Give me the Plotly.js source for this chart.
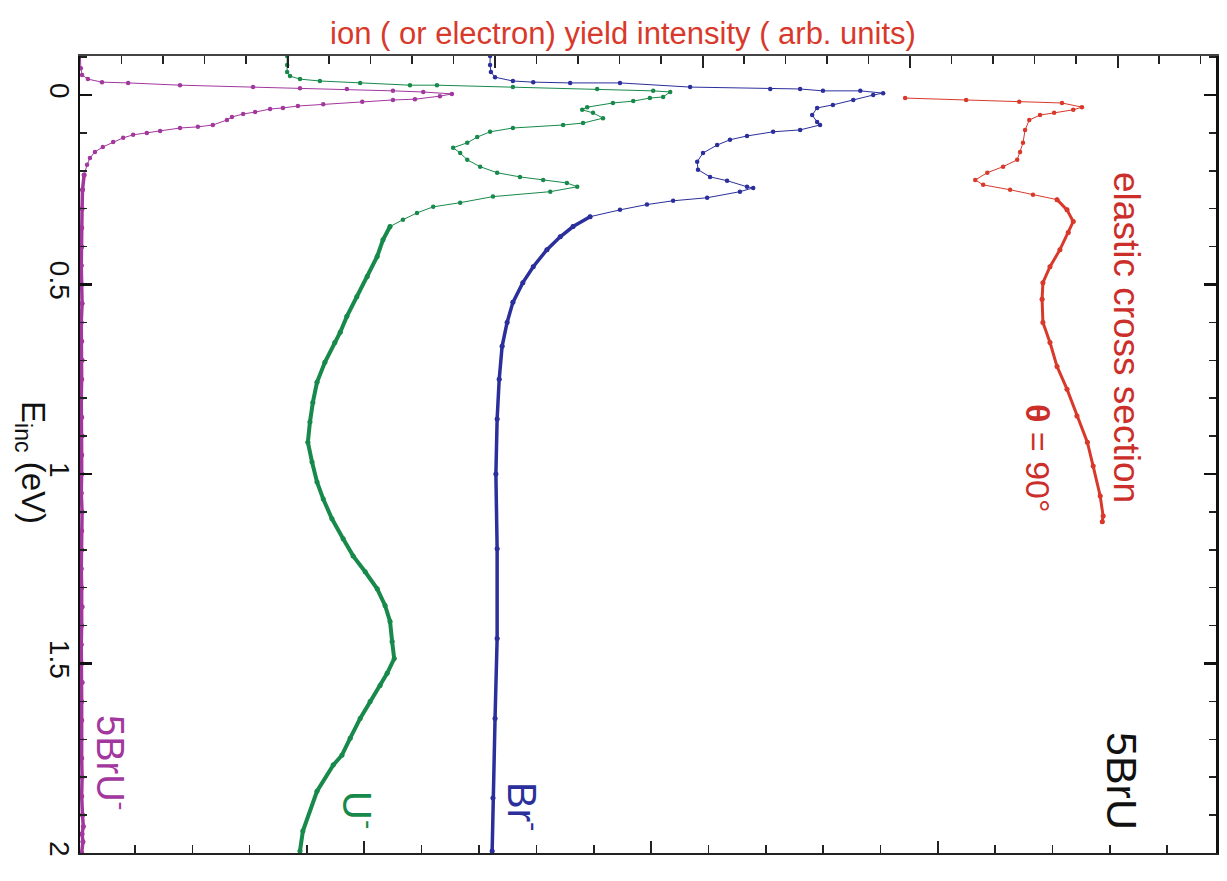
<!DOCTYPE html>
<html>
<head>
<meta charset="utf-8">
<script src="https://cdn.plot.ly/plotly-3.0.1.min.js"></script>
<style>
html,body{margin:0;padding:0;background:#fff;}
#chart{width:1227px;height:881px;}
</style>
</head>
<body>
<div id="chart"></div>
<script>
// Incident energy (eV) and yield intensity (arb. units) for each curve
const energy_5BrU = [-0.103,-0.071,-0.053,-0.042,-0.034,-0.032,-0.026,-0.021,-0.018,-0.016,-0.011,-0.008,-0.003,0.003,0.011,0.013,0.018,0.024,0.029,0.034,0.037,0.045,0.050,0.058,0.066,0.079,0.084,0.087,0.095,0.100,0.105,0.113,0.124,0.137,0.150,0.166,0.184,0.211,0.25,0.30,0.35,0.4,0.45,0.5,0.55,0.6,0.65,0.7,0.75,0.8,0.85,0.9,0.95,1.0,1.05,1.1,1.15,1.2,1.25,1.3,1.35,1.4,1.45,1.5,1.55,1.6,1.65,1.7,1.75,1.8,1.85,1.9,1.93,1.95,1.97,2.0];
const yield_5BrU  = [0.01,0.02,0.05,0.19,0.53,1.16,2.41,4.17,5.30,6.43,7.54,8.27,8.96,8.67,8.07,7.54,6.80,5.86,5.25,4.89,4.58,4.22,3.93,3.66,3.54,3.20,2.84,2.41,1.93,1.61,1.28,1.04,0.80,0.55,0.36,0.24,0.17,0.10,0.06,0.05,0.04,0.04,0.03,0.04,0.05,0.03,0.04,0.05,0.04,0.03,0.04,0.05,0.04,0.04,0.03,0.05,0.04,0.04,0.03,0.04,0.05,0.04,0.03,0.04,0.05,0.04,0.04,0.03,0.04,0.05,0.04,0.06,0.08,0.05,0.07,0.04];

const energy_U = [-0.103,-0.079,-0.061,-0.050,-0.042,-0.037,-0.032,-0.026,-0.026,-0.021,-0.016,-0.011,-0.008,0.005,0.008,0.016,0.021,0.032,0.039,0.047,0.061,0.074,0.079,0.087,0.097,0.111,0.126,0.139,0.153,0.171,0.189,0.205,0.216,0.224,0.232,0.242,0.255,0.268,0.284,0.295,0.311,0.329,0.347,0.382,0.426,0.479,0.532,0.584,0.626,0.653,0.705,0.758,0.811,0.863,0.916,0.968,1.021,1.066,1.118,1.171,1.216,1.258,1.303,1.347,1.389,1.442,1.487,1.526,1.558,1.600,1.645,1.697,1.742,1.768,1.837,1.942,1.995];
const yield_U  = [4.99,4.99,4.99,5.06,5.30,5.78,6.75,7.95,8.60,10.43,12.46,13.81,14.22,14.05,13.73,13.33,12.84,12.22,12.10,12.36,12.60,12.12,11.64,10.43,9.88,9.57,9.33,8.99,9.16,9.33,9.64,10.05,10.60,11.16,11.73,11.98,11.33,9.95,9.16,8.51,8.12,7.78,7.47,7.30,7.16,6.92,6.67,6.43,6.27,6.14,5.90,5.71,5.61,5.54,5.49,5.59,5.71,5.86,6.07,6.34,6.58,6.87,7.16,7.35,7.47,7.52,7.57,7.40,7.23,6.99,6.75,6.51,6.31,6.10,5.71,5.37,5.30];

const energy_Br = [-0.103,-0.079,-0.061,-0.047,-0.037,-0.034,-0.032,-0.032,-0.021,-0.016,-0.016,-0.011,-0.011,-0.005,0.000,0.013,0.026,0.034,0.053,0.071,0.079,0.092,0.097,0.108,0.118,0.132,0.153,0.176,0.197,0.216,0.226,0.242,0.245,0.255,0.271,0.279,0.289,0.303,0.321,0.347,0.374,0.408,0.453,0.495,0.547,0.600,0.663,0.75,0.855,1.0,1.197,1.434,1.645,1.855,1.995];
const yield_Br  = [9.88,9.88,9.90,10.00,10.43,10.92,11.81,13.01,14.70,16.63,17.35,17.90,18.80,19.35,19.11,18.63,18.14,17.76,17.64,17.76,17.83,17.35,16.70,16.07,15.66,15.35,15.01,14.87,14.89,15.18,15.59,16.07,16.22,15.90,15.11,14.29,13.66,13.01,12.29,11.88,11.57,11.25,10.92,10.67,10.43,10.29,10.17,10.10,10.05,10.02,10.05,10.05,10.00,9.95,9.93];

const energy_elastic = [0.008,0.013,0.018,0.021,0.032,0.039,0.047,0.053,0.066,0.092,0.126,0.150,0.171,0.189,0.205,0.224,0.237,0.25,0.263,0.276,0.303,0.334,0.363,0.408,0.453,0.495,0.539,0.600,0.653,0.716,0.776,0.847,0.916,0.979,1.058,1.111,1.126];
const yield_elastic  = [19.88,21.35,22.63,23.66,24.14,23.93,23.47,23.13,22.87,22.77,22.72,22.65,22.58,22.24,21.86,21.57,21.76,22.41,22.96,23.54,23.78,23.93,23.81,23.61,23.37,23.20,23.18,23.20,23.37,23.54,23.78,24.02,24.27,24.41,24.58,24.65,24.63];

const energyTickVals = [0, 0.5, 1, 1.5, 2];
const energyTickText = ["0", "0.5", "1", "1.5", "2"];

const SANS = "'Liberation Sans', Arial, sans-serif";

// thin line + dots for the whole series, heavier stroke where the measured points are dense
function curve(x, y, color, denseFrom, denseWidth) {
  const thin = {
    x: x, y: y, type: 'scatter', mode: 'lines+markers',
    line: {color: color, width: 1},
    marker: {color: color, size: 4.5},
    xaxis: 'x', yaxis: 'y', showlegend: false, hoverinfo: 'skip'
  };
  const dense = {
    x: x.slice(denseFrom), y: y.slice(denseFrom), type: 'scatter', mode: 'lines+markers',
    line: {color: color, width: denseWidth},
    marker: {color: color, size: 5},
    xaxis: 'x', yaxis: 'y', showlegend: false, hoverinfo: 'skip'
  };
  return [thin, dense];
}

const traces = [].concat(
  curve(yield_5BrU, energy_5BrU, '#a2379e', 37, 3.5),
  curve(yield_U, energy_U, '#17894a', 42, 4),
  curve(yield_Br, energy_Br, '#2b2f9b', 38, 3.5),
  curve(yield_elastic, energy_elastic, '#d8392b', 19, 3),
  [{x: [null], y: [null], xaxis: 'x2', yaxis: 'y', mode: 'markers', showlegend: false, hoverinfo: 'skip'}]
);

const layout = {
  width: 1227, height: 881,
  margin: {l: 80, r: 11, t: 56, b: 28},
  paper_bgcolor: '#fff', plot_bgcolor: '#fff',
  showlegend: false,
  title: {
    text: 'ion ( or electron) yield intensity ( arb. units)',
    font: {family: SANS, size: 31, color: '#d8392b'},
    xref: 'paper', x: 0.478, xanchor: 'center',
    yref: 'container', y: 0.962, yanchor: 'middle'
  },
  xaxis: {
    range: [0, 27.37], showgrid: false, zeroline: false,
    showline: true, linecolor: '#222', linewidth: 2,
    ticks: 'inside', tick0: -0.0554, dtick: 6.9075, ticklen: 12, tickwidth: 2, tickcolor: '#222',
    minor: {ticks: 'inside', tick0: -0.0554, dtick: 1.3815, ticklen: 8, tickwidth: 1.5, tickcolor: '#222'},
    showticklabels: false
  },
  xaxis2: {
    overlaying: 'x', side: 'top', anchor: 'y',
    range: [0, 27.37], showgrid: false, zeroline: false,
    showline: true, linecolor: '#444', linewidth: 2,
    ticks: 'inside', tick0: 0, dtick: 5, ticklen: 12, tickwidth: 2, tickcolor: '#222',
    minor: {ticks: 'inside', tick0: 0, dtick: 1, ticklen: 8, tickwidth: 1.5, tickcolor: '#222'},
    showticklabels: false
  },
  yaxis: {
    range: [2, -0.103], showgrid: false, zeroline: false,
    showline: true, linecolor: '#111', linewidth: 2.5, mirror: 'ticks',
    ticks: 'inside', tickvals: energyTickVals, ticktext: energyTickText,
    ticklen: 12, tickwidth: 2.5, tickcolor: '#111',
    minor: {ticks: 'inside', dtick: 0.1, ticklen: 7, tickwidth: 1.5, tickcolor: '#222'},
    tickangle: 90, ticklabelstandoff: -6,
    tickfont: {family: SANS, size: 28, color: '#111'}
  },
  annotations: [
    {text: 'E<sub>inc</sub> (eV)', xref: 'paper', yref: 'paper', x: (31 - 80) / 1136, y: 1 - (462 - 56) / 797,
     xanchor: 'center', yanchor: 'middle', textangle: 90, showarrow: false,
     font: {family: SANS, size: 33, color: '#111'}},
    {text: 'elastic cross section', xref: 'paper', yref: 'paper', x: (1127 - 80) / 1136, y: 1 - (337 - 56) / 797,
     xanchor: 'center', yanchor: 'middle', textangle: 90, showarrow: false,
     font: {family: SANS, size: 37, color: '#cc2f2a'}},
    {text: '<b>θ</b> = 90°', xref: 'paper', yref: 'paper', x: (1038 - 80) / 1136, y: 1 - (458 - 56) / 797,
     xanchor: 'center', yanchor: 'middle', textangle: 90, showarrow: false,
     font: {family: SANS, size: 34, color: '#cc2f2a'}},
    {text: '5BrU', xref: 'paper', yref: 'paper', x: (1122 - 80) / 1136, y: 1 - (781 - 56) / 797,
     xanchor: 'center', yanchor: 'middle', textangle: 90, showarrow: false,
     font: {family: SANS, size: 43, color: '#111'}},
    {text: 'Br<sup>-</sup>', xref: 'paper', yref: 'paper', x: (525 - 80) / 1136, y: 1 - (806 - 56) / 797,
     xanchor: 'center', yanchor: 'middle', textangle: 90, showarrow: false,
     font: {family: SANS, size: 40, color: '#2b2f9b'}},
    {text: 'U<sup>-</sup>', xref: 'paper', yref: 'paper', x: (360 - 80) / 1136, y: 1 - (810 - 56) / 797,
     xanchor: 'center', yanchor: 'middle', textangle: 90, showarrow: false,
     font: {family: SANS, size: 40, color: '#17894a'}},
    {text: '5BrU<sup>-</sup>', xref: 'paper', yref: 'paper', x: (113 - 80) / 1136, y: 1 - (762 - 56) / 797,
     xanchor: 'center', yanchor: 'middle', textangle: 90, showarrow: false,
     font: {family: SANS, size: 38, color: '#a2379e'}}
  ]
};

Plotly.newPlot('chart', traces, layout, {staticPlot: true, displayModeBar: false});
</script>
</body>
</html>
